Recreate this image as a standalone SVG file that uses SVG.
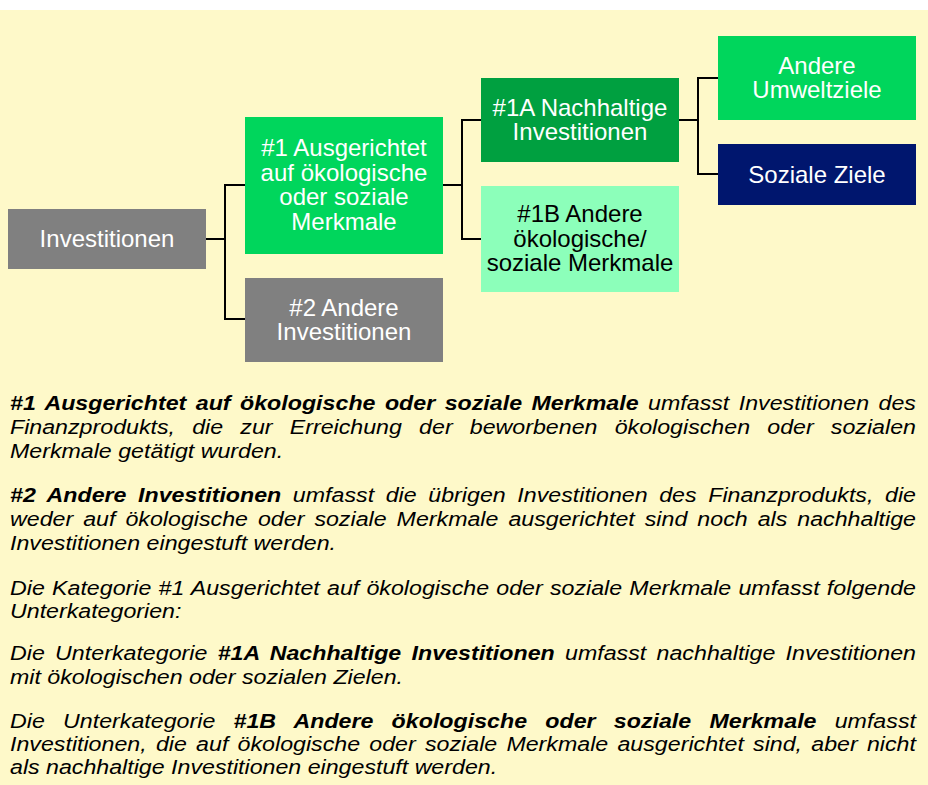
<svg xmlns="http://www.w3.org/2000/svg" width="928" height="785" viewBox="0 0 928 785">
<style>
.bx{font-family:"Liberation Sans",Arial,sans-serif;font-size:24px;text-anchor:middle;fill:#ffffff}
.dk{fill:#000000}
.p{font-family:"Liberation Sans",Arial,sans-serif;font-size:20px;font-style:italic;fill:#000000}
.b{font-weight:bold}
.cn{fill:none;stroke:#000000;stroke-width:2}
</style>
<rect x="0" y="0" width="928" height="785" fill="#ffffff"/>
<rect x="0" y="10" width="928" height="775" fill="#FEF9C9"/>
<g id="connectors">
<path class="cn" d="M206,239 H225 V185 H245"/>
<path class="cn" d="M206,239 H225 V319 H245"/>
<path class="cn" d="M443,185 H462 V120 H481"/>
<path class="cn" d="M443,185 H462 V239 H481"/>
<path class="cn" d="M679,120 H698 V78 H718"/>
<path class="cn" d="M679,120 H698 V174 H718"/>
</g>
<g id="n-investitionen">
<rect x="8" y="209" width="198" height="60" fill="#808080"/>
<text class="bx" x="107" y="247">Investitionen</text>
</g>
<g id="n-1">
<rect x="245" y="117" width="198" height="137" fill="#00D65C"/>
<text class="bx" x="344" y="156">#1 Ausgerichtet</text>
<text class="bx" x="344" y="180.5">auf ökologische</text>
<text class="bx" x="344" y="205">oder soziale</text>
<text class="bx" x="344" y="229.5">Merkmale</text>
</g>
<g id="n-2">
<rect x="245" y="278" width="198" height="84" fill="#808080"/>
<text class="bx" x="344" y="315.5">#2 Andere</text>
<text class="bx" x="344" y="340">Investitionen</text>
</g>
<g id="n-1a">
<rect x="481" y="78" width="198" height="84" fill="#00A040"/>
<text class="bx" x="580" y="115.5">#1A Nachhaltige</text>
<text class="bx" x="580" y="140">Investitionen</text>
</g>
<g id="n-1b">
<rect x="481" y="186" width="198" height="106" fill="#8CFFBA"/>
<text class="bx dk" x="580" y="222">#1B Andere</text>
<text class="bx dk" x="580" y="246.5">ökologische/</text>
<text class="bx dk" x="580" y="271">soziale Merkmale</text>
</g>
<g id="n-umwelt">
<rect x="718" y="36" width="198" height="84" fill="#00D65C"/>
<text class="bx" x="817" y="73.5">Andere</text>
<text class="bx" x="817" y="98">Umweltziele</text>
</g>
<g id="n-sozial">
<rect x="718" y="144" width="198" height="61" fill="#00166E"/>
<text class="bx" x="817" y="182.5">Soziale Ziele</text>
</g>
<g id="legend">
<text class="p" transform="translate(10,410) scale(1.16,1)" word-spacing="2.55" textLength="781" lengthAdjust="spacing"><tspan class="b">#1 Ausgerichtet auf ökologische oder soziale Merkmale</tspan> umfasst Investitionen des</text>
<text class="p" transform="translate(10,434) scale(1.16,1)" word-spacing="9.25" textLength="781" lengthAdjust="spacing">Finanzprodukts, die zur Erreichung der beworbenen ökologischen oder sozialen</text>
<text class="p" transform="translate(10,457.5) scale(1.16,1)">Merkmale getätigt wurden.</text>
<text class="p" transform="translate(10,502) scale(1.16,1)" word-spacing="4.4" textLength="781" lengthAdjust="spacing"><tspan class="b">#2 Andere Investitionen</tspan> umfasst die übrigen Investitionen des Finanzprodukts, die</text>
<text class="p" transform="translate(10,526) scale(1.16,1)" word-spacing="3.07" textLength="781" lengthAdjust="spacing">weder auf ökologische oder soziale Merkmale ausgerichtet sind noch als nachhaltige</text>
<text class="p" transform="translate(10,550) scale(1.16,1)">Investitionen eingestuft werden.</text>
<text class="p" transform="translate(10,594.5) scale(1.16,1)" word-spacing="0.62" textLength="781" lengthAdjust="spacing">Die Kategorie #1 Ausgerichtet auf ökologische oder soziale Merkmale umfasst folgende</text>
<text class="p" transform="translate(10,617.5) scale(1.16,1)">Unterkategorien:</text>
<text class="p" transform="translate(10,660) scale(1.16,1)" word-spacing="3.28" textLength="781" lengthAdjust="spacing">Die Unterkategorie <tspan class="b">#1A Nachhaltige Investitionen</tspan> umfasst nachhaltige Investitionen</text>
<text class="p" transform="translate(10,683.5) scale(1.16,1)">mit ökologischen oder sozialen Zielen.</text>
<text class="p" transform="translate(10,727.5) scale(1.16,1)" word-spacing="10.1" textLength="781" lengthAdjust="spacing">Die Unterkategorie <tspan class="b">#1B Andere ökologische oder soziale Merkmale</tspan> umfasst</text>
<text class="p" transform="translate(10,750.5) scale(1.16,1)" word-spacing="2.4" textLength="781" lengthAdjust="spacing">Investitionen, die auf ökologische oder soziale Merkmale ausgerichtet sind, aber nicht</text>
<text class="p" transform="translate(10,774) scale(1.16,1)">als nachhaltige Investitionen eingestuft werden.</text>
</g>
</svg>
